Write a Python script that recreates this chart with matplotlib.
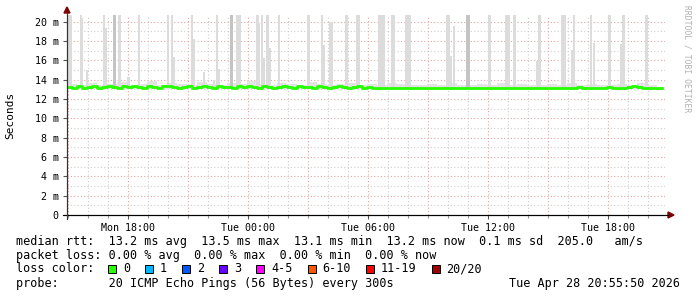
import matplotlib
matplotlib.use('Agg')
import matplotlib.pyplot as plt
import matplotlib.dates as mdates
import pandas as pd
from matplotlib.patches import Rectangle, Polygon

# ---- data ----
t_start = '2026-04-27 14:57'
t_end = '2026-04-28 20:51'

# median rtt in ms, one sample every 15 minutes from t_start
median_ms = [
    13.2, 13.1, 13.3, 13.1, 13.2, 13.3, 13.1, 13.2, 13.3, 13.2,
    13.1, 13.3, 13.2, 13.3, 13.2, 13.1, 13.3, 13.2, 13.1, 13.3,
    13.3, 13.2, 13.1, 13.2, 13.3, 13.1, 13.2, 13.3, 13.2, 13.1,
    13.3, 13.2, 13.2, 13.1, 13.3, 13.2, 13.3, 13.2, 13.1, 13.3,
    13.2, 13.1, 13.2, 13.3, 13.2, 13.1, 13.3, 13.2, 13.2, 13.1,
    13.3, 13.2, 13.1, 13.2, 13.3, 13.2, 13.1, 13.2, 13.3, 13.1,
    13.2, 13.15, 13.1, 13.15, 13.1, 13.1, 13.15, 13.1, 13.1, 13.15,
    13.1, 13.1, 13.15, 13.1, 13.1, 13.1, 13.15, 13.1, 13.1, 13.15,
    13.1, 13.1, 13.1, 13.15, 13.1, 13.15, 13.1, 13.1, 13.1, 13.15,
    13.1, 13.15, 13.15, 13.1, 13.1, 13.15, 13.1, 13.1, 13.15, 13.1,
    13.1, 13.15, 13.2, 13.1, 13.1, 13.15, 13.1, 13.1, 13.2, 13.15,
    13.1, 13.15, 13.25, 13.3, 13.2, 13.1, 13.15, 13.1, 13.15, 13.1,
]

# low smoke band upper edge (ms), one sample every 30 minutes
smoke_low_ms = [
    13.6, 13.5, 13.7, 13.5, 13.6, 13.8, 13.5, 13.6, 13.9, 13.5,
    13.7, 13.6, 13.5, 13.8, 13.6, 13.5, 13.7, 13.6, 13.9, 13.6,
    13.5, 13.7, 13.6, 13.5, 13.8, 13.6, 13.5, 13.6, 13.7, 13.5,
    13.6, 13.5, 13.7, 13.6, 13.5, 13.5, 13.6, 13.5, 13.7, 13.5,
    13.5, 13.6, 13.5, 13.7, 13.5, 13.6, 13.5, 13.5, 13.6, 13.5,
    13.7, 13.5, 13.6, 13.5, 13.5, 13.6, 13.5, 13.7, 13.5, 13.6,
]

# smoke spikes: start time, duration (min), top (ms), dense (darker)
spike_start = [
    '04-27 15:00', '04-27 15:36', '04-27 15:39', '04-27 15:54', '04-27 16:45',
    '04-27 16:51', '04-27 17:15', '04-27 17:30', '04-27 17:57', '04-27 18:30',
    '04-27 19:57', '04-27 20:09', '04-27 20:15', '04-27 21:09', '04-27 21:15',
    '04-27 21:45', '04-27 22:15', '04-27 22:24', '04-27 22:30', '04-27 23:06',
    '04-27 23:24', '04-28 00:24', '04-28 00:33', '04-28 00:39', '04-28 00:45',
    '04-28 00:54', '04-28 01:03', '04-28 01:30', '04-28 02:57', '04-28 03:39',
    '04-28 03:45', '04-28 04:03', '04-28 04:51', '04-28 05:24', '04-28 06:30',
    '04-28 07:09', '04-28 07:51', '04-28 09:54', '04-28 10:06', '04-28 10:15',
    '04-28 10:54', '04-28 12:00', '04-28 12:51', '04-28 13:15', '04-28 14:24',
    '04-28 14:30', '04-28 15:39', '04-28 16:09', '04-28 16:15', '04-28 17:06',
    '04-28 17:15', '04-28 18:00', '04-28 18:36', '04-28 18:42', '04-28 19:51',
]
spike_minutes = [
    12, 6, 6, 6, 6,
    5, 9, 9, 9, 6,
    6, 6, 6, 6, 6,
    6, 6, 6, 6, 9,
    15, 9, 4, 6, 6,
    9, 6, 6, 9, 6,
    6, 12, 9, 12, 21,
    12, 18, 12, 5, 6,
    12, 9, 15, 9, 6,
    9, 15, 6, 6, 6,
    6, 9, 6, 9, 9,
]
spike_top = [
    24, 24, 20.4, 15.0, 24,
    19.4, 24, 24, 14.3, 24,
    24, 24, 16.4, 24, 18.2,
    14.8, 14.0, 24, 15.1, 24,
    24, 24, 19.9, 24, 16.2,
    24, 17.3, 24, 24, 24,
    17.6, 20.0, 24, 24, 24,
    24, 24, 24, 16.5, 19.6,
    24, 24, 24, 24, 15.9,
    24, 24, 17.1, 24, 24,
    17.8, 24, 17.7, 24, 24,
]
spike_dense = [
    False, False, False, False, False,
    False, True, False, False, False,
    False, False, False, False, False,
    False, False, False, False, True,
    False, False, False, False, False,
    False, False, False, False, False,
    False, False, False, False, False,
    False, False, False, False, False,
    True, False, False, False, False,
    False, False, False, False, False,
    False, False, False, False, False,
]

y_ticks = [0, 2, 4, 6, 8, 10, 12, 14, 16, 18, 20]
x_label_hours = ['2026-04-27 18:00', '2026-04-28 00:00', '2026-04-28 06:00',
                 '2026-04-28 12:00', '2026-04-28 18:00']
x_label_text = ['Mon 18:00', 'Tue 00:00', 'Tue 06:00', 'Tue 12:00', 'Tue 18:00']

legend_rows = [
    'median rtt:  13.2 ms avg  13.5 ms max  13.1 ms min  13.2 ms now  0.1 ms sd  205.0   am/s',
    'packet loss: 0.00 % avg  0.00 % max  0.00 % min  0.00 % now',
    'loss color:',
    'probe:       20 ICMP Echo Pings (56 Bytes) every 300s',
]
loss_labels = ['0', '1', '2', '3', '4-5', '6-10', '11-19', '20/20']
loss_colors = ['#26ff00', '#00b8ff', '#0059ff', '#6a00ff', '#ff00ff',
               '#ff5500', '#ff0000', '#a10000']
stamp = 'Tue Apr 28 20:55:50 2026'

# ---- figure ----
W, H = 697, 297
MONO = 'DejaVu Sans Mono'
fig = plt.figure(figsize=(W / 100, H / 100), dpi=100)
fig.patch.set_facecolor('white')


def fx(x):
    return x / W


def fy(y):
    return 1 - y / H


ax = fig.add_axes([fx(67), fy(215), (665 - 67) / W, 200 / H])
t0 = pd.Timestamp(t_start)
t1 = pd.Timestamp(t_end)
ax.set_xlim(t0, t1)
ax.set_ylim(0, 20.7)

# grid
for h in pd.date_range(t0.ceil('h'), t1, freq='h'):
    major = h.hour % 3 == 0
    ax.axvline(h, color='#e4a4a4' if major else '#cfcfcf', lw=0.8,
               ls=(0, (1, 2)), zorder=1)
for v in range(1, 21):
    ax.axhline(v, color='#e4a4a4' if v % 2 == 0 else '#cfcfcf', lw=0.8,
               ls=(0, (1, 2)), zorder=1)

# low smoke band
low_t = pd.date_range(t0, periods=len(smoke_low_ms), freq='30min')
ax.fill_between(low_t, 13.0, smoke_low_ms, step='post', color='#e3e3e3',
                lw=0, zorder=2)

# smoke spikes
base = 13.25
for s, m, top, dense in zip(spike_start, spike_minutes, spike_top, spike_dense):
    ts = pd.Timestamp('2026-' + s)
    ax.bar(mdates.date2num(ts), top - base, width=m / 1440, bottom=base,
           align='edge', color='#c4c4c4' if dense else '#dcdcdc', lw=0,
           zorder=3)

# median line
med_t = pd.date_range(t0, periods=len(median_ms), freq='15min')
ax.plot(med_t, median_ms, drawstyle='steps-post', color='#26ff00', lw=2.0,
        zorder=5)

# axes styling
for sp in ['top', 'right']:
    ax.spines[sp].set_visible(False)
ax.spines['left'].set_color('#333333')
ax.spines['left'].set_bounds(0, 20.7)
ax.spines['bottom'].set_color('black')
ax.spines['left'].set_zorder(6)
ax.spines['bottom'].set_zorder(6)

ax.set_yticks(y_ticks)
ax.set_yticklabels(['0'] + ['%d m' % v for v in y_ticks[1:]])
ax.set_xticks([pd.Timestamp(t) for t in x_label_hours])
ax.set_xticklabels(x_label_text)
ax.xaxis.set_minor_locator(mdates.HourLocator())
ax.tick_params(axis='both', which='major', labelsize=7.2, length=3,
               width=0.8, color='#555555', pad=3)
ax.tick_params(axis='x', which='minor', length=2, width=0.8, color='#999999')
for lab in ax.get_xticklabels() + ax.get_yticklabels():
    lab.set_family(MONO)

# arrows
fig.patches.append(Polygon([[fx(64), fy(13)], [fx(70), fy(13)], [fx(67), fy(7)]],
                           closed=True, color='#800000', transform=fig.transFigure))
fig.patches.append(Polygon([[fx(668), fy(212)], [fx(668), fy(218)], [fx(674), fy(215)]],
                           closed=True, color='#800000', transform=fig.transFigure))
fig.lines.append(plt.Line2D([fx(63), fx(668)], [fy(215), fy(215)], color='black',
                            lw=0.8, transform=fig.transFigure))
fig.lines.append(plt.Line2D([fx(67), fx(67)], [fy(219), fy(13)], color='#333333',
                            lw=0.8, transform=fig.transFigure))

# axis title and watermark
fig.text(fx(10), fy(115), 'Seconds', rotation=90, family=MONO, fontsize=8,
         ha='center', va='center')
fig.text(fx(687), fy(5), 'RRDTOOL / TOBI OETIKER', rotation=270, family=MONO,
         fontsize=5.8, color='#b0b0b0', ha='center', va='top')

# legend
row_y = [241, 255, 269, 283]
for text, y in zip(legend_rows, row_y):
    fig.text(fx(16), fy(y), text, family=MONO, fontsize=8.5, va='center')
fig.text(fx(680), fy(283), stamp, family=MONO, fontsize=8.5, va='center',
         ha='right')
cw = 7.1
x = 108
for lab, col in zip(loss_labels, loss_colors):
    fig.patches.append(Rectangle((fx(x), fy(273)), 8 / W, 8 / H, facecolor=col,
                                 edgecolor='black', lw=0.7,
                                 transform=fig.transFigure))
    fig.text(fx(x + 15), fy(269), lab, family=MONO, fontsize=8.5, va='center')
    x = x + 15 + len(lab) * cw + 15

fig.savefig('out.png', dpi=100)
